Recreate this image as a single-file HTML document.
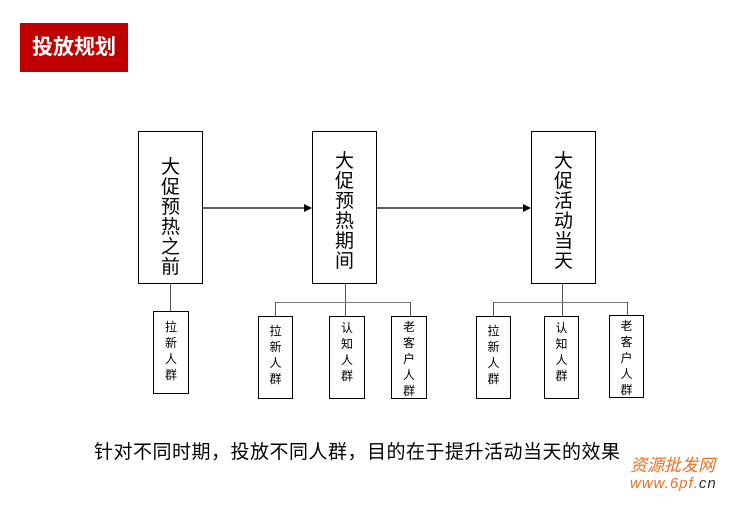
<!DOCTYPE html>
<html><head><meta charset="utf-8"><style>
body{margin:0;width:744px;height:507px;background:#fff;position:relative;overflow:hidden;font-family:"Liberation Sans","Noto Sans CJK SC",sans-serif;}
.a{position:absolute;box-sizing:border-box;}
.big{border:1.5px solid #000;font-size:19px;line-height:20px;text-align:center;color:#000;}
.sm{border:1.5px solid #000;font-size:12px;line-height:16px;text-align:center;color:#000;}
.h{position:absolute;height:0;border-top:1.5px solid #777;}
.v{position:absolute;width:0;border-left:1.5px solid #555;}
</style></head><body>
<div class="a" style="left:20px;top:23px;width:108px;height:49px;background:#c00000;color:#fff;font-weight:bold;font-size:21px;line-height:49px;text-align:center;">投放规划</div>

<div class="a big" style="left:138px;top:131px;width:65px;height:153px;padding-top:26px;">大<br>促<br>预<br>热<br>之<br>前</div>
<div class="a big" style="left:312px;top:131px;width:65px;height:153px;padding-top:20px;">大<br>促<br>预<br>热<br>期<br>间</div>
<div class="a big" style="left:531px;top:131px;width:65px;height:153px;padding-top:20px;">大<br>促<br>活<br>动<br>当<br>天</div>

<svg class="a" style="left:0;top:0" width="744" height="507">
<defs><marker id="m" markerWidth="8" markerHeight="8" refX="7" refY="4" orient="auto" markerUnits="userSpaceOnUse"><path d="M0,0 L8,4 L0,8 Z" fill="#000"/></marker></defs>
<line x1="203" y1="208" x2="311" y2="208" stroke="#000" stroke-width="1.3" marker-end="url(#m)"/>
<line x1="377" y1="208" x2="530" y2="208" stroke="#000" stroke-width="1.3" marker-end="url(#m)"/>
</svg>

<div class="v" style="left:170px;top:284px;height:27px;"></div>
<div class="a sm" style="left:153px;top:311px;width:36px;height:83px;padding-top:7px;">拉<br>新<br>人<br>群</div>

<div class="v" style="left:345px;top:284px;height:32px;"></div>
<div class="h" style="left:275px;top:302px;width:136px;"></div>
<div class="v" style="left:275px;top:302px;height:14px;"></div>
<div class="v" style="left:410px;top:302px;height:14px;"></div>
<div class="a sm" style="left:258px;top:316px;width:35px;height:83px;padding-top:6px;">拉<br>新<br>人<br>群</div>
<div class="a sm" style="left:329px;top:316px;width:36px;height:83px;padding-top:3px;">认<br>知<br>人<br>群</div>
<div class="a sm" style="left:391px;top:316px;width:36px;height:83px;padding-top:2px;">老<br>客<br>户<br>人<br>群</div>

<div class="v" style="left:562px;top:284px;height:32px;"></div>
<div class="h" style="left:493px;top:302px;width:135px;"></div>
<div class="v" style="left:493px;top:302px;height:14px;"></div>
<div class="v" style="left:627px;top:302px;height:13px;"></div>
<div class="a sm" style="left:476px;top:316px;width:35px;height:83px;padding-top:6px;">拉<br>新<br>人<br>群</div>
<div class="a sm" style="left:544px;top:316px;width:35px;height:83px;padding-top:3px;">认<br>知<br>人<br>群</div>
<div class="a sm" style="left:609px;top:315px;width:35px;height:83px;padding-top:2px;">老<br>客<br>户<br>人<br>群</div>

<div class="a" style="left:94px;top:440px;font-size:19px;letter-spacing:0.5px;line-height:26px;white-space:nowrap;color:#000;">针对不同时期，投放不同人群，目的在于提升活动当天的效果</div>
<div class="a" style="left:630px;top:451px;font-size:17px;color:#f07020;white-space:nowrap;font-style:italic;">资源批发网</div>
<div class="a" style="left:630px;top:475px;font-size:15px;color:#f07020;white-space:nowrap;font-style:italic;letter-spacing:1px;">www.6pf.<span style="color:#333">cn</span></div>
</body></html>
